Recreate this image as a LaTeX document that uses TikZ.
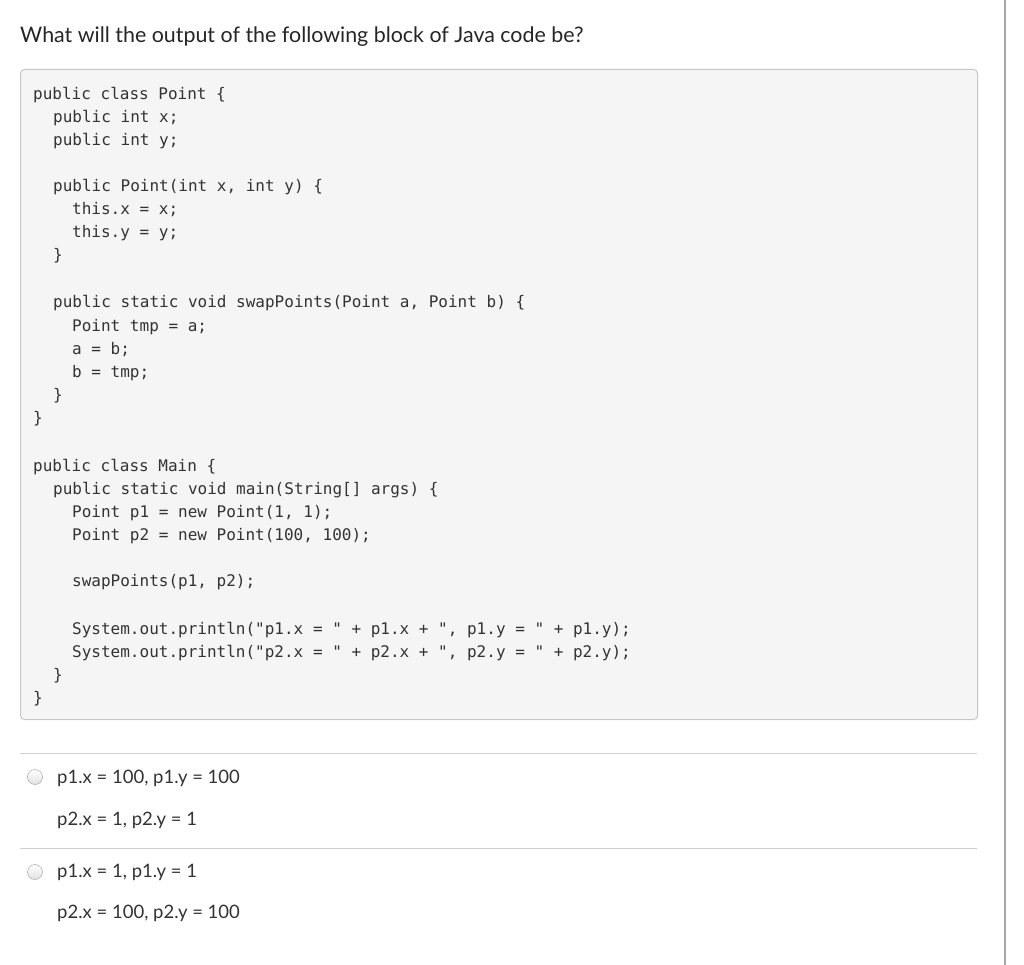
\documentclass[tikz,border=0pt]{standalone}
\usepackage{fontspec}
\setmainfont{Lato}
\setmonofont{DejaVu Sans Mono}
\begin{document}
\begin{tikzpicture}[x=1pt,y=-1pt,
  code/.style={font=\ttfamily\fontsize{16}{16}\selectfont, anchor=base west, inner sep=0pt, text=black!80},
  opt/.style={font=\fontsize{18.5}{19}\selectfont, anchor=base west, inner sep=0pt, text=black!80},
  radio/.style={circle, draw=black!40, top color=white, bottom color=black!12, minimum size=15pt, inner sep=0pt}]
\useasboundingbox (0,0) rectangle (1024,965);
\fill[white] (0,0) rectangle (1024,965);
\draw[black!35, line width=1.5pt] (1005,0) -- (1005,965);
\node[font=\fontsize{21.4}{22}\selectfont, anchor=base west, inner sep=0pt, text=black!85] (title) at (20,43) {What will the output of the following block of Java code be?};
\node[draw=black!22, fill=black!4, rounded corners=4pt, line width=1pt, minimum width=957pt, minimum height=650pt, anchor=north west] (box) at (20,69) {};
\def\L#1#2#3{\node[code] (l#1) at (#2,#1+6) {#3};}
\L{94}{33}{public class Point \{}
\L{117}{53}{public int x;}
\L{140}{53}{public int y;}
\L{186}{53}{public Point(int x, int y) \{}
\L{209}{72}{this.x = x;}
\L{232}{72}{this.y = y;}
\L{255}{53}{\}}
\L{302}{53}{public static void swapPoints(Point a, Point b) \{}
\L{325}{72}{Point tmp = a;}
\L{348}{72}{a = b;}
\L{371}{72}{b = tmp;}
\L{394}{53}{\}}
\L{417}{33}{\}}
\L{465}{33}{public class Main \{}
\L{488}{53}{public static void main(String[] args) \{}
\L{511}{72}{Point p1 = new Point(1, 1);}
\L{534}{72}{Point p2 = new Point(100, 100);}
\L{580}{72}{swapPoints(p1, p2);}
\L{628}{72}{System.out.println("p1.x = " + p1.x + ", p1.y = " + p1.y);}
\L{651}{72}{System.out.println("p2.x = " + p2.x + ", p2.y = " + p2.y);}
\L{674}{53}{\}}
\L{697}{33}{\}}
\draw[black!18, line width=1pt] (20,753) -- (977,753);
\draw[black!18, line width=1pt] (20,848) -- (977,848);
\node[radio] (r1) at (35,777) {};
\node[radio] (r2) at (35,872) {};
\node[opt] (o1) at (57,783) {p1.x = 100, p1.y = 100};
\node[opt] (o2) at (57,825) {p2.x = 1, p2.y = 1};
\node[opt] (o3) at (57,877) {p1.x = 1, p1.y = 1};
\node[opt] (o4) at (57,918) {p2.x = 100, p2.y = 100};
\end{tikzpicture}
\end{document}
